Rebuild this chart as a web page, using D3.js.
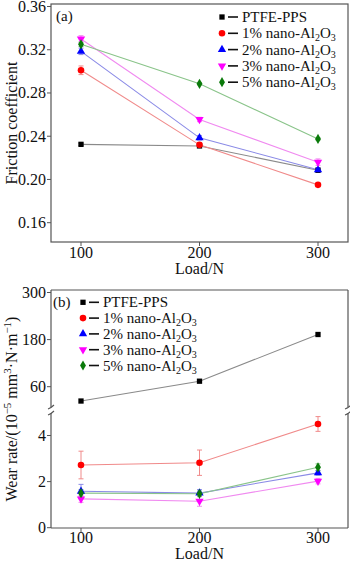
<!DOCTYPE html>
<html><head><meta charset="utf-8">
<script src="https://cdn.jsdelivr.net/npm/d3@7"></script>
<style>
html,body{margin:0;padding:0;background:#fff;}
svg text{font-family:"Liberation Serif","Times New Roman","DejaVu Serif",serif;}
</style></head><body>
<svg id="c" width="350" height="561"></svg>
<script>
// ---- data ----
const loads = [100, 200, 300];
const seriesNames = ["PTFE-PPS", "1% nano-Al2O3", "2% nano-Al2O3", "3% nano-Al2O3", "5% nano-Al2O3"];
const frictionPTFE = [0.2325, 0.231, 0.2085];
const friction1 = [0.301, 0.232, 0.195];
const friction2 = [0.3185, 0.2385, 0.209];
const friction3 = [0.330, 0.2555, 0.216];
const friction5 = [0.325, 0.2885, 0.2375];
const frictionErrPTFE = [0.001, 0.001, 0.001];
const frictionErr1 = [0.004, 0.002, 0.001];
const frictionErr2 = [0.003, 0.002, 0.002];
const frictionErr3 = [0.003, 0.002, 0.003];
const frictionErr5 = [0.002, 0.001, 0.001];
const wearPTFE = [23.5, 74, 193];
const wear1 = [2.72, 2.82, 4.5];
const wear2 = [1.58, 1.5, 2.38];
const wear3 = [1.25, 1.15, 2.02];
const wear5 = [1.5, 1.47, 2.62];
const wearErr1 = [0.6, 0.55, 0.32];
const wearErr2 = [0.3, 0.15, 0.1];
const wearErr3 = [0.15, 0.22, 0.12];
const wearErr5 = [0.15, 0.12, 0.15];
const frictionTicks = [0.16, 0.20, 0.24, 0.28, 0.32, 0.36];
const wearUpperTicks = [60, 180, 300];
const wearLowerTicks = [0, 2, 4];
const xTicks = [100, 200, 300];

// ---- styles ----
const FONT = "'Liberation Serif','Times New Roman','DejaVu Serif',serif";
const markColors = ["#000000", "#ff0000", "#0000ff", "#ff00ff", "#0a7a0a"];
const lineColors = ["#8a8a8a", "#f08a8a", "#8a8ae6", "#f08af0", "#8ac48a"];
const symTypes = [d3.symbolSquare, d3.symbolCircle, d3.symbolTriangle, d3.symbolTriangle, d3.symbolDiamond];
const symSizes = [28, 34, 30, 30, 30];
const symRot = [0, 0, 0, 180, 0];
const frameColor = "#555";

const svg = d3.select("#c");
const L = 51, R = 348;
const x = d3.scaleLinear().domain([100, 300]).range([81, 318]);

function txt(g, size) {
  return g.append("text").attr("font-family", FONT).attr("font-size", size).attr("fill", "#111");
}
function marker(g, i, px, py) {
  g.append("path")
    .attr("d", d3.symbol().type(symTypes[i]).size(symSizes[i])())
    .attr("transform", `translate(${px},${py}) rotate(${symRot[i]})`)
    .attr("fill", markColors[i]);
}
function legendText(g, tx, ty, name) {
  const t = txt(g, 15).attr("x", tx).attr("y", ty);
  const m = name.match(/^(.*nano-Al)2O3$/);
  if (m) {
    t.append("tspan").text(m[1]);
    t.append("tspan").text("2").attr("font-size", 10).attr("dy", 3);
    t.append("tspan").text("O").attr("dy", -3);
    t.append("tspan").text("3").attr("font-size", 10).attr("dy", 3);
  } else t.text(name);
}
function legend(g, mx, y0, dy) {
  seriesNames.forEach((n, i) => {
    const yy = y0 + i * dy;
    marker(g, i, mx, yy);
    g.append("line").attr("x1", mx + 6).attr("x2", mx + 16).attr("y1", yy).attr("y2", yy)
      .attr("stroke", "#111").attr("stroke-width", 1.6);
    legendText(g, mx + 20, yy + 5, n);
  });
}
function errBar(g, px, y1, y2, color) {
  g.append("line").attr("x1", px).attr("x2", px).attr("y1", y1).attr("y2", y2).attr("stroke", color).attr("stroke-width", 1);
  [y1, y2].forEach(yy => g.append("line").attr("x1", px - 2.5).attr("x2", px + 2.5).attr("y1", yy).attr("y2", yy).attr("stroke", color).attr("stroke-width", 1));
}

// ================= Panel (a) =================
const ya = d3.scaleLinear().domain([0.16, 0.36]).range([222.7, 6.5]);
const A_T = 4, A_B = 242;
const ga = svg.append("g");
ga.append("rect").attr("x", L).attr("y", A_T).attr("width", R - L).attr("height", A_B - A_T)
  .attr("fill", "none").attr("stroke", frameColor).attr("stroke-width", 1.2);
frictionTicks.forEach(t => {
  ga.append("line").attr("x1", L - 4).attr("x2", L).attr("y1", ya(t)).attr("y2", ya(t)).attr("stroke", frameColor);
  txt(ga, 16).attr("x", L - 5).attr("y", ya(t) + 5.5).attr("text-anchor", "end").text(t.toFixed(2));
});
xTicks.forEach(t => {
  ga.append("line").attr("x1", x(t)).attr("x2", x(t)).attr("y1", A_B).attr("y2", A_B + 4).attr("stroke", frameColor);
  txt(ga, 16).attr("x", x(t)).attr("y", 258).attr("text-anchor", "middle").text(t);
});
txt(ga, 16).attr("x", x(200)).attr("y", 274).attr("text-anchor", "middle").text("Load/N");
txt(ga, 16).attr("transform", `translate(17,${(A_T + A_B) / 2}) rotate(-90)`).attr("text-anchor", "middle")
  .text("Friction coefficient");
txt(ga, 15).attr("x", 56).attr("y", 21).text("(a)");

const fr = [frictionPTFE, friction1, friction2, friction3, friction5];
const frE = [frictionErrPTFE, frictionErr1, frictionErr2, frictionErr3, frictionErr5];
const lineA = d3.line().x((d, i) => x(loads[i])).y(d => ya(d));
fr.forEach((s, i) => ga.append("path").attr("d", lineA(s)).attr("fill", "none").attr("stroke", lineColors[i]).attr("stroke-width", 1.1));
fr.forEach((s, i) => s.forEach((v, j) => errBar(ga, x(loads[j]), ya(v - frE[i][j]), ya(v + frE[i][j]), lineColors[i])));
fr.forEach((s, i) => s.forEach((v, j) => marker(ga, i, x(loads[j]), ya(v))));
legend(ga, 222, 17, 16.3);

// ================= Panel (b) =================
const ybu = d3.scaleLinear().domain([60, 300]).range([386.7, 292.5]);
const ybl = d3.scaleLinear().domain([0, 4]).range([527.7, 435.5]);
const B_T = 290, B_B = 528, BRK1 = 407, BRK2 = 413;
const gb = svg.append("g");
gb.append("line").attr("x1", L).attr("x2", R).attr("y1", B_T).attr("y2", B_T).attr("stroke", frameColor).attr("stroke-width", 1.2);
gb.append("line").attr("x1", L).attr("x2", R).attr("y1", B_B).attr("y2", B_B).attr("stroke", frameColor).attr("stroke-width", 1.2);
[L, R].forEach(xx => {
  gb.append("line").attr("x1", xx).attr("x2", xx).attr("y1", B_T).attr("y2", BRK1).attr("stroke", frameColor).attr("stroke-width", 1.2);
  gb.append("line").attr("x1", xx).attr("x2", xx).attr("y1", BRK2).attr("y2", B_B).attr("stroke", frameColor).attr("stroke-width", 1.2);
  [BRK1, BRK2].forEach(yy => gb.append("path")
    .attr("d", `M${xx - 3},${yy + 2} Q${xx},${yy + 1} ${xx + 3},${yy - 2}`)
    .attr("fill", "none").attr("stroke", frameColor).attr("stroke-width", 1.1));
});
wearUpperTicks.forEach(t => {
  gb.append("line").attr("x1", L - 4).attr("x2", L).attr("y1", ybu(t)).attr("y2", ybu(t)).attr("stroke", frameColor);
  txt(gb, 16).attr("x", L - 5).attr("y", ybu(t) + 5.5).attr("text-anchor", "end").text(t);
});
wearLowerTicks.forEach(t => {
  gb.append("line").attr("x1", L - 4).attr("x2", L).attr("y1", ybl(t)).attr("y2", ybl(t)).attr("stroke", frameColor);
  txt(gb, 16).attr("x", L - 5).attr("y", ybl(t) + 5.5).attr("text-anchor", "end").text(t);
});
xTicks.forEach(t => {
  gb.append("line").attr("x1", x(t)).attr("x2", x(t)).attr("y1", B_B).attr("y2", B_B + 4).attr("stroke", frameColor);
  txt(gb, 16).attr("x", x(t)).attr("y", 543).attr("text-anchor", "middle").text(t);
});
txt(gb, 16).attr("x", x(200)).attr("y", 559).attr("text-anchor", "middle").text("Load/N");
const wt = txt(gb, 16).attr("transform", `translate(17,${(B_T + B_B) / 2}) rotate(-90)`).attr("text-anchor", "middle");
wt.append("tspan").text("Wear rate/(10");
wt.append("tspan").text("−5").attr("font-size", 11).attr("dy", -6);
wt.append("tspan").text(" mm").attr("dy", 6);
wt.append("tspan").text("3").attr("font-size", 11).attr("dy", -6);
wt.append("tspan").text("·N·m").attr("dy", 6);
wt.append("tspan").text("−1").attr("font-size", 11).attr("dy", -6);
wt.append("tspan").text(")").attr("dy", 6);
txt(gb, 15).attr("x", 53).attr("y", 307).text("(b)");

const lineU = d3.line().x((d, i) => x(loads[i])).y(d => ybu(d));
gb.append("path").attr("d", lineU(wearPTFE)).attr("fill", "none").attr("stroke", lineColors[0]).attr("stroke-width", 1.1);
wearPTFE.forEach((v, j) => marker(gb, 0, x(loads[j]), ybu(v)));
const wl = [null, wear1, wear2, wear3, wear5];
const wlE = [null, wearErr1, wearErr2, wearErr3, wearErr5];
const lineL = d3.line().x((d, i) => x(loads[i])).y(d => ybl(d));
[1, 2, 3, 4].forEach(i => gb.append("path").attr("d", lineL(wl[i])).attr("fill", "none").attr("stroke", lineColors[i]).attr("stroke-width", 1.1));
[1, 2, 3, 4].forEach(i => wl[i].forEach((v, j) => errBar(gb, x(loads[j]), ybl(v - wlE[i][j]), ybl(v + wlE[i][j]), lineColors[i])));
[1, 3, 2, 4].forEach(i => wl[i].forEach((v, j) => marker(gb, i, x(loads[j]), ybl(v))));
legend(gb, 83, 302.3, 15.8);
</script></body></html>
